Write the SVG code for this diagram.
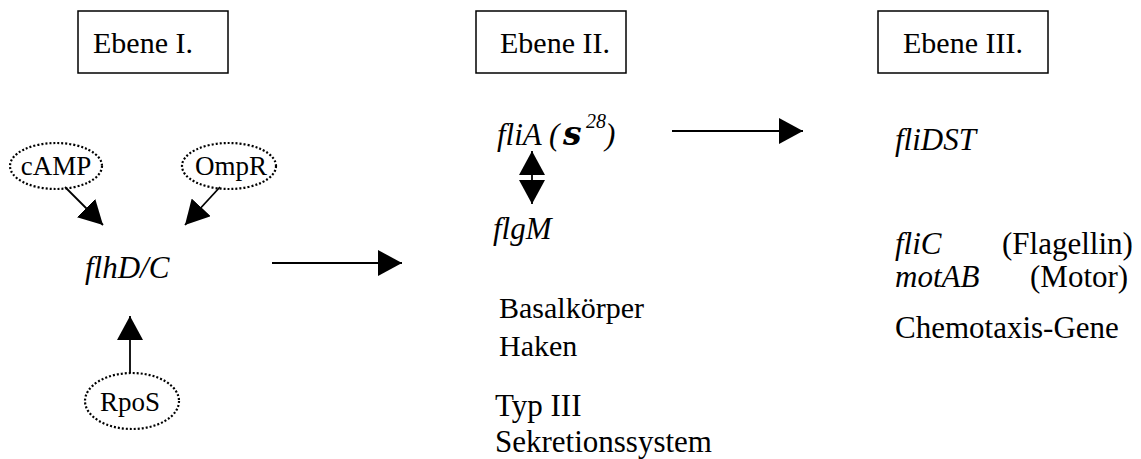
<svg xmlns="http://www.w3.org/2000/svg" width="1141" height="459" viewBox="0 0 1141 459">
<defs>
<style>
.t{font-family:"Liberation Serif","Times New Roman",serif;fill:#000}
.i{font-style:italic}
.box{fill:#fff;stroke:#000;stroke-width:1.5}
.dot{fill:none;stroke:#000;stroke-width:2.2;stroke-dasharray:2,2}
.ln{stroke:#000;stroke-width:1.8;fill:none}
</style>
<marker id="ah" markerUnits="userSpaceOnUse" markerWidth="25" markerHeight="26" refX="24" refY="13" orient="auto-start-reverse" viewBox="0 0 25 26">
<path d="M0,0 L24,13 L0,26 Z" fill="#000"/>
</marker>
</defs>
<rect width="1141" height="459" fill="#fff"/>
<g id="ebene1"><rect class="box" x="78" y="11" width="150" height="62"/><text class="t" x="93" y="53" font-size="30">Ebene I.</text></g>
<g id="ebene2"><rect class="box" x="476" y="11" width="150" height="62"/><text class="t" x="500" y="53" font-size="30">Ebene II.</text></g>
<g id="ebene3"><rect class="box" x="878" y="11" width="170" height="62"/><text class="t" x="903" y="53" font-size="30">Ebene III.</text></g>
<g id="camp"><ellipse class="dot" cx="56" cy="166" rx="46" ry="23"/><text class="t" x="56" y="175" font-size="27" text-anchor="middle">cAMP</text></g>
<g id="ompr"><ellipse class="dot" cx="229" cy="166" rx="47" ry="23"/><text class="t" x="231" y="175" font-size="27" text-anchor="middle">OmpR</text></g>
<g id="rpos"><ellipse class="dot" cx="132" cy="401" rx="47" ry="28"/><text class="t" x="130" y="411" font-size="27" text-anchor="middle">RpoS</text></g>
<g id="flhdc"><text class="t i" x="85" y="278" font-size="31">flhD/C</text></g>
<g id="flia"><text class="t" y="145" font-size="31"><tspan class="i" x="497">fliA (</tspan><tspan x="563" font-family="'DejaVu Serif',serif" font-weight="bold" font-style="italic" font-size="33">s</tspan><tspan class="i" x="586" y="128" font-size="20">28</tspan><tspan class="i" x="605" y="145">)</tspan></text></g>
<g id="flgm"><text class="t i" x="493" y="239" font-size="31">flgM</text></g>
<g id="basal"><text class="t" x="499" y="318" font-size="30">Basalkörper</text><text class="t" x="499" y="356" font-size="30">Haken</text></g>
<g id="typ3"><text class="t" x="495" y="416" font-size="31">Typ III</text><text class="t" x="495" y="452" font-size="31">Sekretionssystem</text></g>
<g id="flidst"><text class="t i" x="895" y="150" font-size="31">fliDST</text></g>
<g id="flic"><text class="t" y="254" font-size="31"><tspan class="i" x="895">fliC</tspan><tspan x="1002">(Flagellin)</tspan></text></g>
<g id="motab"><text class="t" y="287" font-size="31"><tspan class="i" x="895">motAB</tspan><tspan x="1030">(Motor)</tspan></text></g>
<g id="chemo"><text class="t" x="895" y="338" font-size="31">Chemotaxis-Gene</text></g>
<g id="connectors">
<line class="ln" x1="65" y1="187" x2="103" y2="225" marker-end="url(#ah)"/>
<line class="ln" x1="220" y1="187" x2="185" y2="225" marker-end="url(#ah)"/>
<line class="ln" x1="130" y1="373" x2="130" y2="316" marker-end="url(#ah)"/>
<line class="ln" x1="272" y1="263" x2="402" y2="263" marker-end="url(#ah)"/>
<line class="ln" x1="672" y1="131" x2="803" y2="131" marker-end="url(#ah)"/>
<line class="ln" x1="532" y1="151" x2="532" y2="204" marker-start="url(#ah)" marker-end="url(#ah)"/>
</g>
</svg>
